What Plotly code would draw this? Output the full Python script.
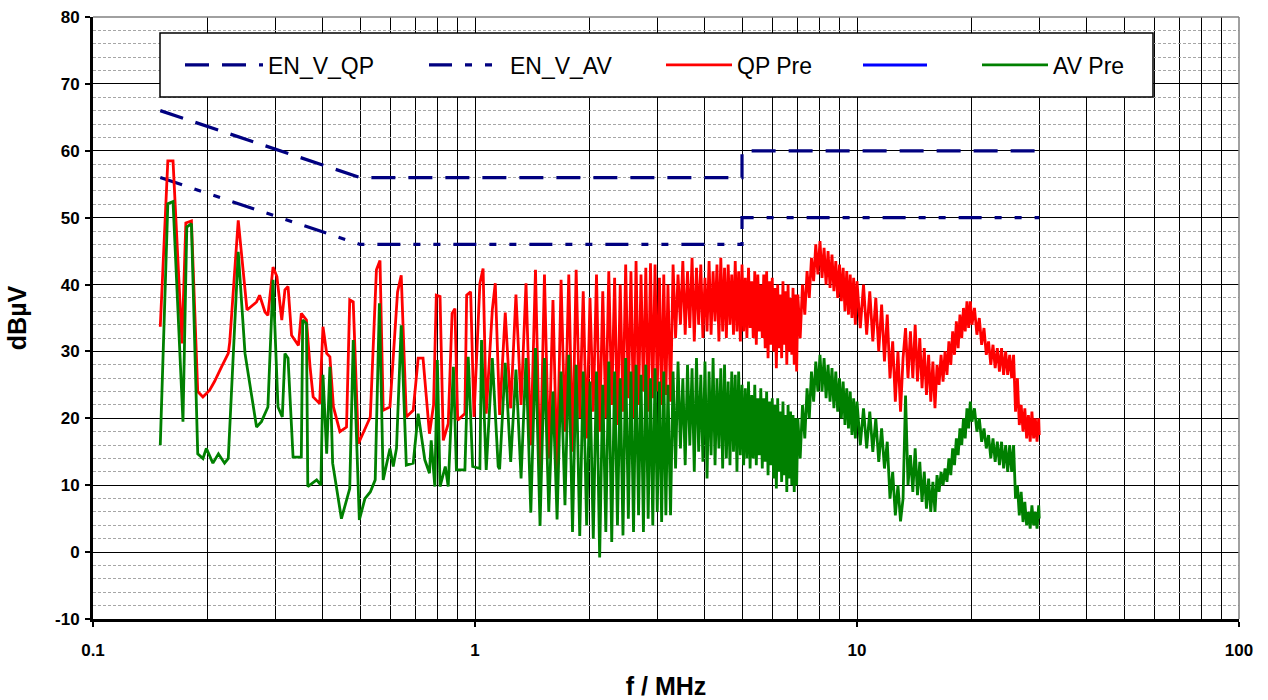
import plotly.graph_objects as go

# ---------------- limit lines ----------------
lim_freq = [0.15, 0.5, 5, 5, 30]
en_v_qp = [66, 56, 56, 60, 60]
en_v_av = [56, 46, 46, 50, 50]

# ---------------- QP Pre, low range (0.15 - 1.13 MHz) ----------------
f_qp_low = [0.150, 0.157, 0.162, 0.171, 0.175, 0.181, 0.188, 0.194, 0.202, 0.208,
            0.217, 0.226, 0.228, 0.240, 0.253, 0.268, 0.273, 0.282, 0.287, 0.296,
            0.303, 0.312, 0.318, 0.324, 0.331, 0.345, 0.351, 0.362, 0.370, 0.377,
            0.392, 0.400, 0.409, 0.417, 0.426, 0.443, 0.461, 0.470, 0.480, 0.495,
            0.532, 0.552, 0.564, 0.575, 0.599, 0.627, 0.641, 0.661, 0.689, 0.710,
            0.731, 0.760, 0.779, 0.792, 0.810, 0.826, 0.851, 0.871, 0.886, 0.901,
            0.941, 0.951, 0.974, 0.994, 1.03, 1.05, 1.07, 1.11, 1.13]
qp_low = [33.7, 58.5, 58.5, 31.2, 49.2, 49.5, 24.0, 23.2, 24.2, 25.5,
          27.7, 29.7, 31.4, 49.6, 36.2, 37.4, 38.4, 35.9, 35.4, 42.6,
          41.2, 34.7, 39.2, 39.7, 32.4, 30.9, 35.7, 34.7, 27.7, 23.2,
          22.2, 33.7, 29.7, 29.2, 21.7, 18.0, 18.7, 37.7, 37.4, 16.2,
          20.2, 42.2, 43.6, 21.2, 21.7, 38.9, 41.4, 20.2, 21.2, 29.0,
          29.0, 17.7, 22.0, 38.4, 38.2, 16.7, 19.2, 35.7, 36.4, 19.7,
          20.7, 38.4, 38.9, 20.2, 40.2, 42.4, 20.7, 36.2, 40.2]

# ---------------- AV Pre, low range (0.15 - 1.15 MHz) ----------------
f_av_low = [0.150, 0.157, 0.162, 0.172, 0.176, 0.181, 0.188, 0.194, 0.198, 0.206,
            0.213, 0.221, 0.226, 0.231, 0.240, 0.250, 0.268, 0.276, 0.287, 0.296,
            0.305, 0.313, 0.318, 0.324, 0.334, 0.351, 0.354, 0.362, 0.365, 0.385,
            0.395, 0.400, 0.409, 0.417, 0.424, 0.447, 0.470, 0.480, 0.498, 0.515,
            0.532, 0.548, 0.562, 0.575, 0.599, 0.611, 0.623, 0.641, 0.661, 0.689,
            0.710, 0.739, 0.760, 0.768, 0.785, 0.797, 0.810, 0.836, 0.851, 0.878,
            0.894, 0.941, 0.960, 0.986, 1.03, 1.04, 1.07, 1.11, 1.15]
av_low = [16.0, 52.1, 52.4, 19.5, 48.6, 49.1, 14.7, 14.0, 15.5, 13.3,
          14.7, 13.3, 14.0, 25.7, 44.9, 29.7, 18.7, 19.5, 21.7, 40.7,
          21.7, 20.2, 29.7, 29.0, 14.2, 14.2, 34.7, 34.2, 9.8, 10.8,
          10.0, 26.5, 14.7, 27.7, 13.3, 5.0, 9.5, 31.7, 4.8, 8.0,
          9.0, 10.8, 37.2, 10.8, 15.5, 12.8, 15.5, 33.9, 13.0, 13.3,
          20.7, 13.8, 11.8, 16.7, 9.8, 28.7, 9.8, 12.8, 9.8, 27.7,
          12.3, 12.3, 29.2, 12.8, 12.5, 31.7, 12.3, 29.0, 12.8]

# ---------------- harmonic range (1.16 - 3.20 MHz) ----------------
f_mid = [1.16, 1.20, 1.24, 1.28, 1.32, 1.36, 1.40, 1.44, 1.48, 1.52,
         1.56, 1.60, 1.64, 1.68, 1.72, 1.76, 1.80, 1.84, 1.88, 1.92,
         1.96, 2.00, 2.04, 2.08, 2.12, 2.16, 2.20, 2.24, 2.28, 2.32,
         2.36, 2.40, 2.44, 2.48, 2.52, 2.56, 2.60, 2.64, 2.68, 2.72,
         2.76, 2.80, 2.84, 2.88, 2.92, 2.96, 3.00, 3.04, 3.08, 3.12,
         3.16, 3.20]
qp_mid = [20.5, 35.8, 21.5, 38.5, 22.0, 40.2, 16.0, 42.2, 11.0, 41.5,
          14.0, 37.7, 12.0, 40.7, 18.0, 41.5, 15.0, 42.2, 20.0, 39.0,
          17.0, 38.0, 21.0, 41.5, 18.0, 39.0, 20.0, 42.0, 22.0, 41.0,
          19.0, 40.0, 21.0, 43.0, 23.0, 42.0, 20.0, 43.5, 22.0, 41.5,
          24.0, 42.5, 21.0, 43.2, 23.0, 43.0, 24.0, 41.0, 22.0, 41.5,
          23.5, 40.0]
av_mid = [12.4, 28.3, 13.5, 27.3, 11.0, 29.0, 5.9, 30.5, 3.9, 29.0,
          6.0, 24.0, 4.9, 27.0, 7.0, 29.5, 3.0, 28.0, 2.4, 27.0,
          4.0, 25.5, 2.0, 27.0, -0.8, 25.0, 3.0, 28.5, 1.5, 27.0,
          4.0, 26.0, 2.5, 29.0, 5.0, 27.0, 3.0, 28.0, 5.5, 26.5,
          3.0, 28.0, 5.0, 26.0, 4.0, 27.5, 6.0, 25.5, 4.5, 27.0,
          5.5, 25.0]

# ---------------- dense band (3.25 - 6.95 MHz) ----------------
f_band = [3.25, 3.30, 3.35, 3.40, 3.45, 3.50, 3.55, 3.60, 3.65, 3.70,
          3.75, 3.80, 3.85, 3.90, 3.95, 4.00, 4.05, 4.10, 4.15, 4.20,
          4.25, 4.30, 4.35, 4.40, 4.45, 4.50, 4.55, 4.60, 4.65, 4.70,
          4.75, 4.80, 4.85, 4.90, 4.95, 5.00, 5.05, 5.10, 5.15, 5.20,
          5.25, 5.30, 5.35, 5.40, 5.45, 5.50, 5.55, 5.60, 5.65, 5.70,
          5.75, 5.80, 5.85, 5.90, 5.95, 6.00, 6.05, 6.10, 6.15, 6.20,
          6.25, 6.30, 6.35, 6.40, 6.45, 6.50, 6.55, 6.60, 6.65, 6.70,
          6.75, 6.80, 6.85, 6.90, 6.95]
qp_band = [22.5, 43.0, 32.0, 41.5, 34.0, 43.5, 32.5, 42.0, 33.5, 44.0,
           31.5, 42.5, 34.0, 43.0, 32.0, 41.0, 33.0, 43.5, 32.5, 42.0,
           34.5, 43.0, 31.5, 44.0, 33.0, 42.5, 32.0, 43.0, 34.0, 41.5,
           32.5, 43.5, 33.0, 42.0, 31.5, 43.0, 33.0, 41.0, 32.0, 42.5,
           33.5, 40.5, 32.0, 42.0, 31.0, 41.5, 33.0, 40.0, 32.0, 41.5,
           30.5, 42.0, 29.0, 40.5, 31.0, 41.0, 30.0, 39.5, 27.5, 40.0,
           30.5, 38.5, 29.0, 40.5, 31.0, 39.0, 28.0, 40.0, 30.0, 38.0,
           29.5, 39.5, 28.0, 38.5, 27.0]
av_band = [5.5, 27.0, 12.5, 28.5, 15.5, 26.0, 13.0, 28.0, 16.0, 27.5,
           12.0, 29.0, 15.0, 26.5, 13.5, 28.5, 11.0, 27.0, 14.5, 29.0,
           13.0, 26.0, 15.5, 27.5, 12.5, 28.0, 14.0, 25.5, 13.0, 27.0,
           15.0, 26.5, 12.0, 27.0, 14.5, 25.0, 13.0, 24.5, 14.0, 25.5,
           12.5, 23.5, 14.0, 25.0, 13.0, 23.0, 14.5, 24.5, 12.5, 23.0,
           13.5, 24.0, 11.5, 22.5, 13.0, 23.0, 11.0, 22.0, 9.5, 23.0,
           12.0, 21.0, 10.5, 22.5, 11.5, 20.5, 9.0, 22.0, 11.0, 21.0,
           10.0, 20.5, 9.0, 20.0, 10.0]

# ---------------- high range (7 - 30 MHz) ----------------
f_high = [7.0, 7.1, 7.2, 7.3, 7.4, 7.5, 7.6, 7.7, 7.8, 7.9,
          8.0, 8.1, 8.2, 8.3, 8.4, 8.5, 8.6, 8.7, 8.8, 8.9,
          9.0, 9.1, 9.2, 9.3, 9.4, 9.5, 9.6, 9.7, 9.8, 9.9,
          10.0, 10.2, 10.4, 10.6, 10.8, 11.0, 11.2, 11.4, 11.6, 11.8,
          12.0, 12.2, 12.4, 12.6, 12.8, 13.0, 13.2, 13.4, 13.6, 13.8,
          14.0, 14.2, 14.4, 14.6, 14.8, 15.0, 15.2, 15.4, 15.6, 15.8,
          16.0, 16.2, 16.4, 16.6, 16.8, 17.0, 17.2, 17.4, 17.6, 17.8,
          18.0, 18.2, 18.4, 18.6, 18.8, 19.0, 19.2, 19.4, 19.6, 19.8,
          20.0, 20.3, 20.6, 20.9, 21.2, 21.5, 21.8, 22.1, 22.4, 22.7,
          23.0, 23.3, 23.6, 23.9, 24.2, 24.5, 24.8, 25.1, 25.4, 25.7,
          26.0, 26.3, 26.6, 26.9, 27.2, 27.5, 27.8, 28.1, 28.4, 28.7,
          29.0, 29.3, 29.6, 29.9, 30.0]
qp_high = [38.5, 32.0, 40.0, 35.5, 42.0, 38.0, 44.0, 40.5, 46.0, 41.5,
           46.5, 41.0, 45.5, 40.0, 45.0, 39.5, 44.5, 39.0, 43.5, 38.0,
           43.0, 37.5, 42.5, 36.0, 42.0, 35.5, 41.5, 35.0, 41.0, 34.0,
           40.5, 33.5, 40.0, 32.5, 39.0, 31.5, 38.0, 30.0, 37.0, 28.5,
           35.5, 26.0, 31.5, 22.5, 30.0, 21.0, 29.0, 33.5, 26.0, 33.0,
           26.0, 34.0, 25.5, 32.0, 24.5, 30.5, 23.5, 29.5, 22.5, 28.5,
           21.5, 28.0, 25.0, 29.5, 25.5, 30.0, 26.5, 31.5, 28.0, 33.0,
           29.5, 34.5, 30.5, 35.5, 32.0, 36.5, 33.0, 37.5, 33.5, 37.5,
           34.0, 36.5, 32.5, 35.0, 31.0, 33.5, 29.5, 31.5, 28.0, 31.0,
           27.5, 30.5, 27.0, 30.5, 26.5, 30.0, 26.5, 29.5, 26.0, 29.5,
           21.0, 26.0, 19.0, 22.0, 18.0, 21.5, 17.0, 20.5, 16.5, 21.0,
           17.0, 20.0, 16.5, 20.0, 17.5]
av_high = [20.0, 14.0, 22.0, 17.0, 24.5, 20.0, 27.0, 22.5, 28.5, 24.0,
           29.5, 24.0, 29.0, 23.0, 28.0, 22.5, 27.5, 21.5, 27.0, 21.0,
           26.0, 20.0, 25.5, 19.0, 24.5, 18.5, 24.0, 17.5, 23.0, 17.0,
           22.5, 16.0, 21.5, 15.5, 21.0, 15.0, 20.0, 13.5, 18.5, 12.5,
           16.5, 8.0, 12.0, 5.5, 10.0, 4.6, 8.0, 23.4, 10.0, 14.5,
           9.0, 15.5, 8.5, 13.5, 7.5, 12.0, 6.5, 11.0, 6.0, 10.5,
           6.0, 11.5, 9.0, 12.0, 10.0, 12.5, 10.5, 14.0, 11.5, 15.5,
           13.0, 17.0, 14.5, 18.5, 16.0, 20.0, 17.0, 21.5, 18.5, 22.5,
           19.5, 21.5, 18.0, 20.0, 16.5, 18.5, 15.5, 17.5, 14.0, 17.0,
           13.5, 16.5, 13.0, 16.5, 12.5, 16.0, 12.0, 16.0, 12.0, 16.0,
           8.0, 10.0, 5.5, 9.0, 4.5, 7.5, 4.0, 6.0, 3.5, 7.0,
           4.0, 6.0, 3.5, 7.0, 5.0]

# ---------------- axes ----------------
x_tickvals = [0.1, 1, 10, 100]
x_ticktext = ["0.1", "1", "10", "100"]
x_minor_vals = [0.2, 0.3, 0.4, 0.5, 0.6, 0.7, 0.8, 0.9,
                2, 3, 4, 5, 6, 7, 8, 9,
                20, 30, 40, 50, 60, 70, 80, 90]
y_tickvals = [-10, 0, 10, 20, 30, 40, 50, 60, 70, 80]
y_ticktext = ["-10", "0", "10", "20", "30", "40", "50", "60", "70", "80"]
y_range = [-10, 80]

qp_freq = f_qp_low + f_mid + f_band + f_high
qp_vals = qp_low + qp_mid + qp_band + qp_high
av_freq = f_av_low + f_mid + f_band + f_high
av_vals = av_low + av_mid + av_band + av_high

FONT = "Liberation Sans, Arial, sans-serif"
PL, PR, PT, PB = 93, 1239, 17, 619   # plot area in px
W, H = 1268, 700


def px2x(px):
    return (px - PL) / (PR - PL)


def py2y(py):
    return (PB - py) / (PB - PT)


fig = go.Figure()
fig.add_trace(go.Scatter(x=lim_freq, y=en_v_qp, mode="lines", name="EN_V_QP",
                         line=dict(color="#000080", width=3.2, dash="24px,13px"),
                         legend="legend"))
fig.add_trace(go.Scatter(x=lim_freq, y=en_v_av, mode="lines", name="EN_V_AV",
                         line=dict(color="#000080", width=3.2,
                                   dash="23px,13px,7px,13px,7px,13px"),
                         legend="legend2"))
fig.add_trace(go.Scatter(x=qp_freq, y=qp_vals, mode="lines", name="QP Pre",
                         line=dict(color="#FF0000", width=2.8), legend="legend3"))
fig.add_trace(go.Scatter(x=[None], y=[None], mode="lines", name=" ",
                         line=dict(color="#0000FF", width=3), legend="legend4"))
fig.add_trace(go.Scatter(x=av_freq, y=av_vals, mode="lines", name="AV Pre",
                         line=dict(color="#008000", width=2.8), legend="legend5"))


def leg(xpx, iw):
    return dict(x=px2x(xpx), y=py2y(65), xanchor="left", yanchor="middle",
                orientation="h", bgcolor="rgba(0,0,0,0)", borderwidth=0,
                itemwidth=iw, font=dict(family=FONT, size=23, color="black"))


fig.update_layout(
    width=W, height=H,
    margin=dict(l=PL, r=W - PR, t=PT, b=H - PB, autoexpand=False),
    paper_bgcolor="white", plot_bgcolor="white",
    showlegend=True,
    legend=leg(180, 78),
    legend2=leg(424, 76),
    legend3=leg(661, 66),
    legend4=leg(858, 64),
    legend5=leg(977, 66),
    xaxis=dict(type="log", range=[-1, 2], tickvals=x_tickvals, ticktext=x_ticktext,
               automargin=False,
               showgrid=True, gridcolor="black", gridwidth=1,
               ticks="outside", ticklen=5, tickwidth=2, tickcolor="black",
               ticklabelstandoff=9,
               showline=True, linecolor="black", linewidth=3,
               tickfont=dict(family=FONT, size=17, color="black", weight="bold"),
               minor=dict(tickvals=x_minor_vals, showgrid=True, gridcolor="black",
                          gridwidth=1.4, ticks=""),
               title=dict(text="f / MHz", standoff=46,
                          font=dict(family=FONT, size=25, color="black", weight="bold")),
               zeroline=False),
    yaxis=dict(range=y_range, tickvals=y_tickvals, ticktext=y_ticktext,
               automargin=False,
               showgrid=True, gridcolor="black", gridwidth=1,
               ticks="outside", ticklen=5, tickwidth=2, tickcolor="black",
               ticklabelstandoff=2,
               showline=True, linecolor="black", linewidth=3,
               tickfont=dict(family=FONT, size=17, color="black", weight="bold"),
               minor=dict(dtick=2, tick0=0, showgrid=True, gridcolor="#A6A6A6",
                          gridwidth=1, griddash="3px,2px", ticks=""),
               title=dict(text="dBµV", standoff=22,
                          font=dict(family=FONT, size=25, color="black", weight="bold")),
               zeroline=False),
    shapes=[
        dict(type="line", xref="paper", yref="paper", x0=0, x1=1, y0=1, y1=1,
             line=dict(color="#808080", width=1.5), layer="above"),
        dict(type="line", xref="paper", yref="paper", x0=1, x1=1, y0=0, y1=1,
             line=dict(color="#808080", width=1.5), layer="above"),
        dict(type="rect", xref="paper", yref="paper",
             x0=px2x(160), x1=px2x(1153), y0=py2y(97), y1=py2y(33),
             fillcolor="white", line=dict(color="black", width=1.5), layer="above"),
    ],
)

fig.write_html("out.html", include_plotlyjs=True,
               config={"displayModeBar": False},
               post_script="document.body.style.margin='0';")
